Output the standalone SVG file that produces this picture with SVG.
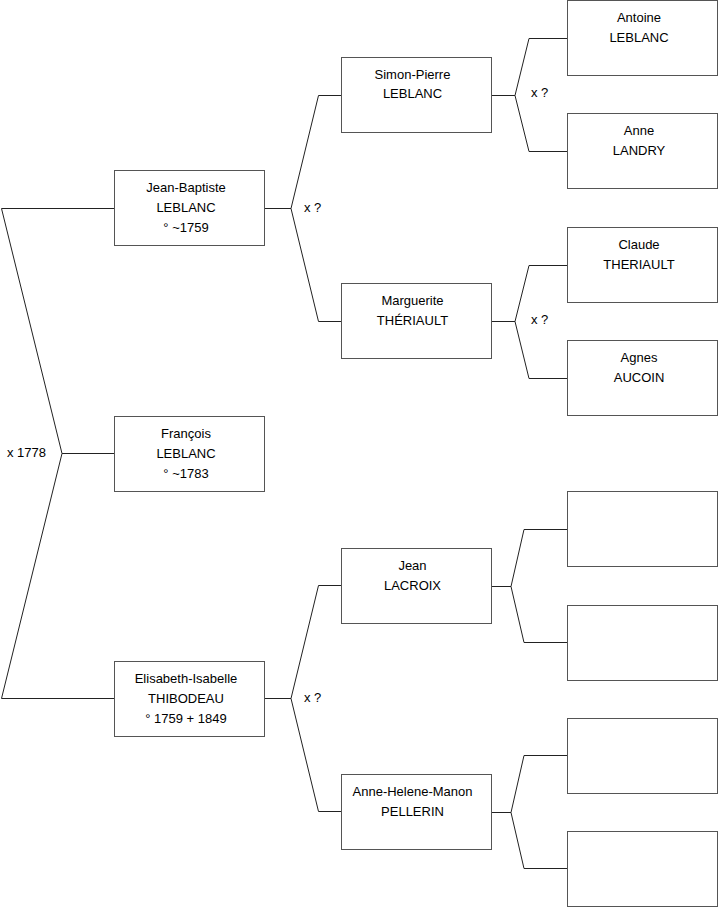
<svg xmlns="http://www.w3.org/2000/svg" width="719" height="908" viewBox="0 0 719 908">
<style>
.box{fill:#fff;stroke:#555;stroke-width:1}
.ln{fill:none;stroke:#222;stroke-width:1}
text{font-family:"Liberation Sans",Arial,sans-serif;font-size:13px;fill:#000}
.c{text-anchor:middle}
</style>
<rect width="719" height="908" fill="#fff"/>
<g id="connectors">
<path class="ln" d="M114,208.5 H1.5 L62,453.5 L1.5,698.5 H114 M62,453.5 H114"/>
<path class="ln" d="M265,208.5 H291 L318.5,95.5 H341 M291,208.5 L318.5,321.5 H341"/>
<path class="ln" d="M265,698.5 H291 L318.5,585.5 H341 M291,698.5 L318.5,811.5 H341"/>
<path class="ln" d="M492,95.5 H515 L529,38.5 H567 M515,95.5 L529,151.5 H567"/>
<path class="ln" d="M492,321.5 H515 L529,265.5 H567 M515,321.5 L529,378.5 H567"/>
<path class="ln" d="M492,586.5 H511 L524,529.5 H567 M511,586.5 L524,642.5 H567"/>
<path class="ln" d="M492,812.5 H511 L524,755.5 H567 M511,812.5 L524,868.5 H567"/>
<text x="7" y="457">x 1778</text>
<text x="304" y="212">x ?</text>
<text x="304" y="702">x ?</text>
<text x="531" y="97">x ?</text>
<text x="531" y="324">x ?</text>
</g>
<g id="jean-baptiste"><rect class="box" x="114.5" y="170.5" width="150" height="75"/><text class="c" x="186" y="191.5">Jean-Baptiste</text><text class="c" x="186" y="211.5">LEBLANC</text><text class="c" x="186" y="231.5">° ~1759</text></g>
<g id="francois"><rect class="box" x="114.5" y="416.5" width="150" height="75"/><text class="c" x="186" y="437.5">François</text><text class="c" x="186" y="457.5">LEBLANC</text><text class="c" x="186" y="477.5">° ~1783</text></g>
<g id="elisabeth"><rect class="box" x="114.5" y="661.5" width="150" height="75"/><text class="c" x="186" y="682.5">Elisabeth-Isabelle</text><text class="c" x="186" y="702.5">THIBODEAU</text><text class="c" x="186" y="722.5">° 1759 + 1849</text></g>
<g id="simon-pierre"><rect class="box" x="341.5" y="57.5" width="150" height="75"/><text class="c" x="412.5" y="78.5">Simon-Pierre</text><text class="c" x="412.5" y="98">LEBLANC</text></g>
<g id="marguerite"><rect class="box" x="341.5" y="283.5" width="150" height="75"/><text class="c" x="412.5" y="304.5">Marguerite</text><text class="c" x="412.5" y="324.5">THÉRIAULT</text></g>
<g id="jean"><rect class="box" x="341.5" y="548.5" width="150" height="75"/><text class="c" x="412.5" y="569.5">Jean</text><text class="c" x="412.5" y="589.5">LACROIX</text></g>
<g id="anne-helene"><rect class="box" x="341.5" y="774.5" width="150" height="75"/><text class="c" x="412.5" y="795.5">Anne-Helene-Manon</text><text class="c" x="412.5" y="815.5">PELLERIN</text></g>
<g id="antoine"><rect class="box" x="567.5" y="0.5" width="150" height="75"/><text class="c" x="639" y="21.5">Antoine</text><text class="c" x="639" y="41.5">LEBLANC</text></g>
<g id="anne"><rect class="box" x="567.5" y="113.5" width="150" height="75"/><text class="c" x="639" y="134.5">Anne</text><text class="c" x="639" y="154.5">LANDRY</text></g>
<g id="claude"><rect class="box" x="567.5" y="227.5" width="150" height="75"/><text class="c" x="639" y="248.5">Claude</text><text class="c" x="639" y="268.5">THERIAULT</text></g>
<g id="agnes"><rect class="box" x="567.5" y="340.5" width="150" height="75"/><text class="c" x="639" y="361.5">Agnes</text><text class="c" x="639" y="381.5">AUCOIN</text></g>
<g id="empty1"><rect class="box" x="567.5" y="491.5" width="150" height="75"/></g>
<g id="empty2"><rect class="box" x="567.5" y="605.5" width="150" height="75"/></g>
<g id="empty3"><rect class="box" x="567.5" y="718.5" width="150" height="75"/></g>
<g id="empty4"><rect class="box" x="567.5" y="831.5" width="150" height="75"/></g>
</svg>
